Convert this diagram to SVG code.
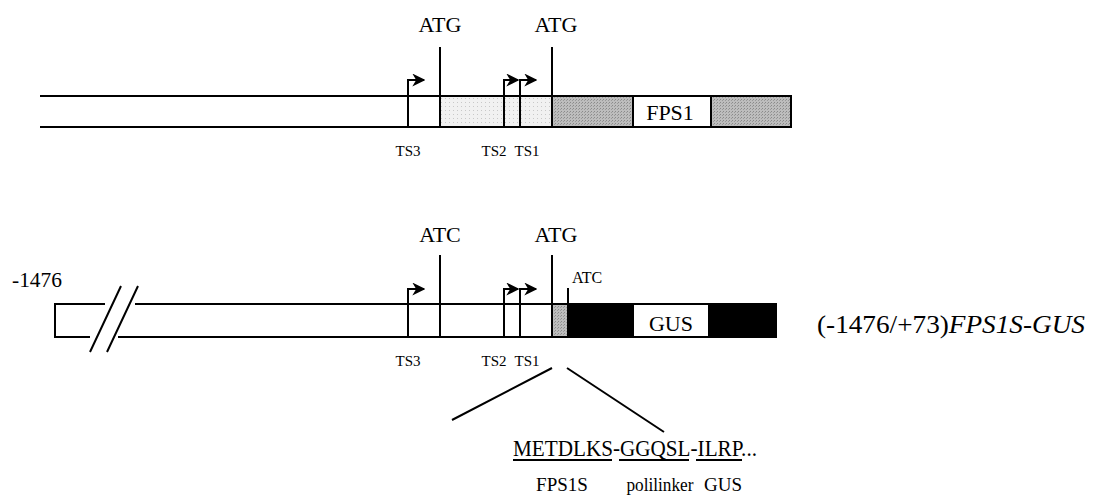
<svg xmlns="http://www.w3.org/2000/svg" width="1094" height="497" viewBox="0 0 1094 497" font-family="'Liberation Serif', 'Times New Roman', serif">
<style>
text{font-family:"Liberation Serif","Times New Roman",serif;fill:#000}
.ln{stroke:#000;stroke-width:2;fill:none}
.lbl{font-size:22px;text-anchor:middle}
.ts{font-size:15px;text-anchor:middle}
.sub{font-size:19px;text-anchor:middle}
</style>
<defs>
<pattern id="lite" width="4" height="4" patternUnits="userSpaceOnUse">
<rect width="4" height="4" fill="#f1f1f1"/>
<rect x="1" y="2" width="1" height="1" fill="#c8c8c8"/>
</pattern>
<pattern id="grey" width="3" height="3" patternUnits="userSpaceOnUse">
<rect width="3" height="3" fill="#bdbdbd"/>
<rect x="0" y="0" width="1" height="1" fill="#8a8a8a"/>
<rect x="2" y="1" width="1" height="1" fill="#9a9a9a"/>
</pattern>
<marker id="ah" viewBox="0 0 10 10" refX="9" refY="5" markerWidth="13" markerHeight="13" markerUnits="userSpaceOnUse" orient="auto">
<path d="M0,0 L10,5 L0,10 L3,5 Z" fill="#000"/>
</marker>
</defs>

<g id="construct-fps1">
<rect x="440" y="96" width="112" height="31" fill="url(#lite)"/>
<rect x="552" y="96" width="81" height="31" fill="url(#grey)"/>
<rect x="711" y="96" width="80" height="31" fill="url(#grey)"/>
<path class="ln" d="M40,96 H791 V127 H40"/>
<path class="ln" d="M633,96 V127 M711,96 V127"/>
<path class="ln" d="M440,47 V127 M552,47 V127"/>
<text class="lbl" x="440" y="32">ATG</text>
<text class="lbl" x="556" y="32">ATG</text>
<text class="lbl" x="670" y="120">FPS1</text>
<path class="ln" d="M408,127 V80 H424" marker-end="url(#ah)"/>
<path class="ln" d="M504,127 V80 H518" marker-end="url(#ah)"/>
<path class="ln" d="M520,127 V80 H536" marker-end="url(#ah)"/>
<text class="ts" x="408" y="156">TS3</text>
<text class="ts" x="494" y="156">TS2</text>
<text class="ts" x="527" y="156">TS1</text>
</g>

<g id="construct-gus">
<rect x="552" y="304" width="15" height="33" fill="url(#grey)"/>
<rect x="567" y="304" width="66" height="33" fill="#000"/>
<rect x="709" y="304" width="67" height="33" fill="#000"/>
<path class="ln" d="M105,304 H55 V337 H90"/>
<path class="ln" d="M135,304 H776 V337 H118"/>
<path class="ln" d="M90,352 L121,286 M107,352 L138,286"/>
<path class="ln" d="M633,304 V337 M709,304 V337"/>
<path class="ln" d="M440,255 V337 M552,255 V337 M568,288 V304"/>
<text x="12" y="287" style="font-size:22px" textLength="50" lengthAdjust="spacingAndGlyphs">-1476</text>
<text class="lbl" x="440" y="242">ATC</text>
<text class="lbl" x="556" y="242">ATG</text>
<text x="572" y="283" style="font-size:16px">ATC</text>
<text class="lbl" x="671" y="331">GUS</text>
<path class="ln" d="M408,337 V289 H424" marker-end="url(#ah)"/>
<path class="ln" d="M504,337 V289 H518" marker-end="url(#ah)"/>
<path class="ln" d="M520,337 V289 H536" marker-end="url(#ah)"/>
<text class="ts" x="408" y="366">TS3</text>
<text class="ts" x="494" y="366">TS2</text>
<text class="ts" x="527" y="366">TS1</text>
<text x="817" y="333" style="font-size:26px" textLength="268" lengthAdjust="spacingAndGlyphs">(-1476/+73)<tspan font-style="italic">FPS1S-GUS</tspan></text>
</g>

<g id="connectors">
<path class="ln" d="M552,368 L452,420 M567,368 L664,432"/>
</g>

<g id="sequence">
<text x="513" y="456" style="font-size:24px" textLength="244" lengthAdjust="spacingAndGlyphs">METDLKS-GGQSL-ILRP...</text>
<path class="ln" d="M513,460 H612 M619,460 H689 M696,460 H742" stroke-width="1.5"/>
<text class="sub" x="562" y="491">FPS1S</text>
<text class="sub" x="660" y="491" textLength="67" lengthAdjust="spacingAndGlyphs">polilinker</text>
<text class="sub" x="723" y="491">GUS</text>
</g>
</svg>
